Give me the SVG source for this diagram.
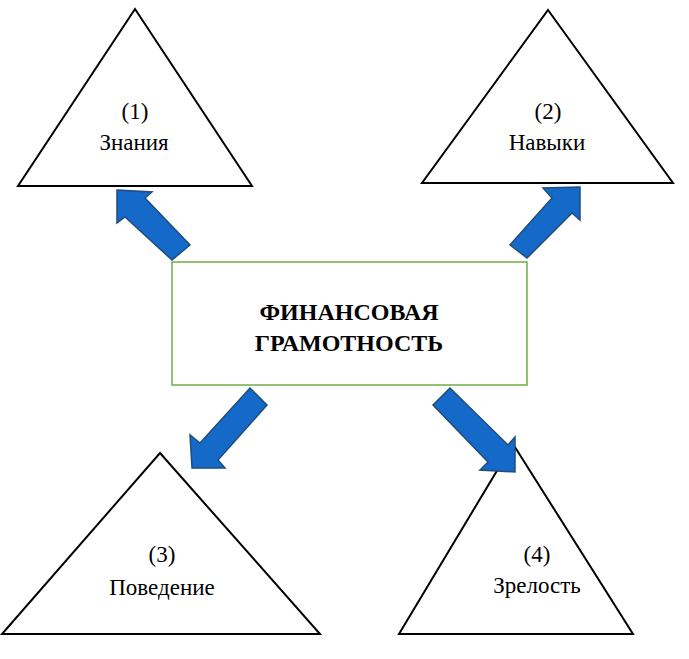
<svg xmlns="http://www.w3.org/2000/svg" width="689" height="659" viewBox="0 0 689 659">
<style>
.tri{fill:#fff;stroke:#000;stroke-width:2}
.lbl{font-family:"Liberation Serif","DejaVu Serif",serif;font-size:23px;text-anchor:middle;fill:#000}
.ttl{font-family:"Liberation Serif","DejaVu Serif",serif;font-size:24px;font-weight:bold;text-anchor:middle;fill:#000}
.arr{fill:#1469C9;stroke:#1F4E79;stroke-width:1.5;stroke-linejoin:miter}
</style>
<rect width="689" height="659" fill="#fff"/>
<g id="node1">
<polygon class="tri" points="135,9 252,186 18,186"/>
<text class="lbl" x="135" y="119">(1)</text>
<text class="lbl" x="134" y="150">Знания</text>
</g>
<g id="node2">
<polygon class="tri" points="548,10 673,183 422,183"/>
<text class="lbl" x="548" y="119">(2)</text>
<text class="lbl" x="547" y="150">Навыки</text>
</g>
<g id="node3">
<polygon class="tri" points="160,453 320,634 2,634"/>
<text class="lbl" x="162" y="562">(3)</text>
<text class="lbl" x="162" y="595">Поведение</text>
</g>
<g id="node4">
<polygon class="tri" points="513,444 633,634 399,634"/>
<text class="lbl" x="537" y="562">(4)</text>
<text class="lbl" x="537" y="593">Зрелость</text>
</g>
<g id="center">
<rect x="172" y="262" width="355" height="123" fill="#fff" stroke="#70AD47" stroke-width="1.5"/>
<text class="ttl" x="349" y="320">ФИНАНСОВАЯ</text>
<text class="ttl" x="349" y="351">ГРАМОТНОСТЬ</text>
</g>
<g id="connectors">
<polygon class="arr" points="117,190 152,192 145,198 190,245 172,260 125,217 117,223"/>
<polygon class="arr" points="580,187 580,220 572,213 527,258 510,245 552,198 543,188"/>
<polygon class="arr" points="250,388 267,405 218,460 225,468 192,468 190,435 200,443"/>
<polygon class="arr" points="450,388 433,405 488,462 480,470 515,472 515,437 508,445"/>
</g>
</svg>
